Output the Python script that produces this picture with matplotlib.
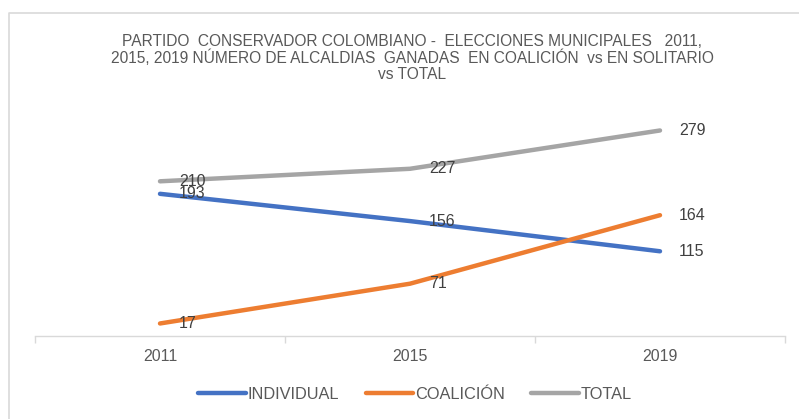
import matplotlib
matplotlib.use("Agg")
import matplotlib.pyplot as plt
from matplotlib.lines import Line2D

plt.rcParams["font.family"] = ["Liberation Sans", "DejaVu Sans"]

# ---------------------------
# Data
# ---------------------------
years = ["2011", "2015", "2019"]
individual = [193, 156, 115]
coalicion = [17, 71, 164]
total = [210, 227, 279]

series = [
    ("INDIVIDUAL", individual, "#4472C4"),
    ("COALICIÓN", coalicion, "#ED7D31"),
    ("TOTAL", total, "#A5A5A5"),
]

title = ("PARTIDO  CONSERVADOR COLOMBIANO -  ELECCIONES MUNICIPALES   2011,\n"
         "2015, 2019 NÚMERO DE ALCALDIAS  GANADAS  EN COALICIÓN  vs EN SOLITARIO\n"
         "vs TOTAL")

W, H = 799, 419
fig = plt.figure(figsize=(W / 100, H / 100), dpi=100)
ax = fig.add_axes([35 / W, 1 - 336 / H, 750 / W, 221 / H])

x = list(range(len(years)))
for name, vals, color in series:
    ax.plot(x, vals, color=color, lw=3.2, solid_capstyle="round", label=name, zorder=2)
for name, vals, color in series:
    for xi, v in zip(x, vals):
        ax.annotate(str(v), (xi, v), xytext=(19, 0), textcoords="offset pixels",
                    ha="left", va="center", fontsize=11.5, color="#404040", zorder=3)

ax.set_xlim(-0.5, 2.5)
ax.set_ylim(0, 300)
ax.set_xticks(x)
ax.set_xticklabels(years, fontsize=11.5, color="#595959")
ax.set_xticks([-0.5, 0.5, 1.5, 2.5], minor=True)
ax.tick_params(axis="x", which="major", length=0, pad=9)
ax.tick_params(axis="x", which="minor", length=5, color="#D9D9D9", width=1)
ax.set_yticks([])
for side in ("top", "right", "left"):
    ax.spines[side].set_visible(False)
ax.spines["bottom"].set_color("#D9D9D9")
ax.spines["bottom"].set_linewidth(1)

fig.text(412 / W, 1 - 58 / H, title, ha="center", va="center", fontsize=11.2,
         color="#595959", linespacing=1.08)

fig.legend(loc="center", bbox_to_anchor=(415 / W, 1 - 394 / H), ncol=3,
           frameon=False, fontsize=11.8, handlelength=2.9, handletextpad=0.12,
           columnspacing=1.6, labelcolor="#595959")

# chart-area border (left and top edges visible in the crop)
fig.add_artist(Line2D([9 / W, 9 / W, 1], [0, 1 - 13 / H, 1 - 13 / H],
                      transform=fig.transFigure, color="#D9D9D9", lw=1.2))

fig.savefig("out.png", dpi=100)
